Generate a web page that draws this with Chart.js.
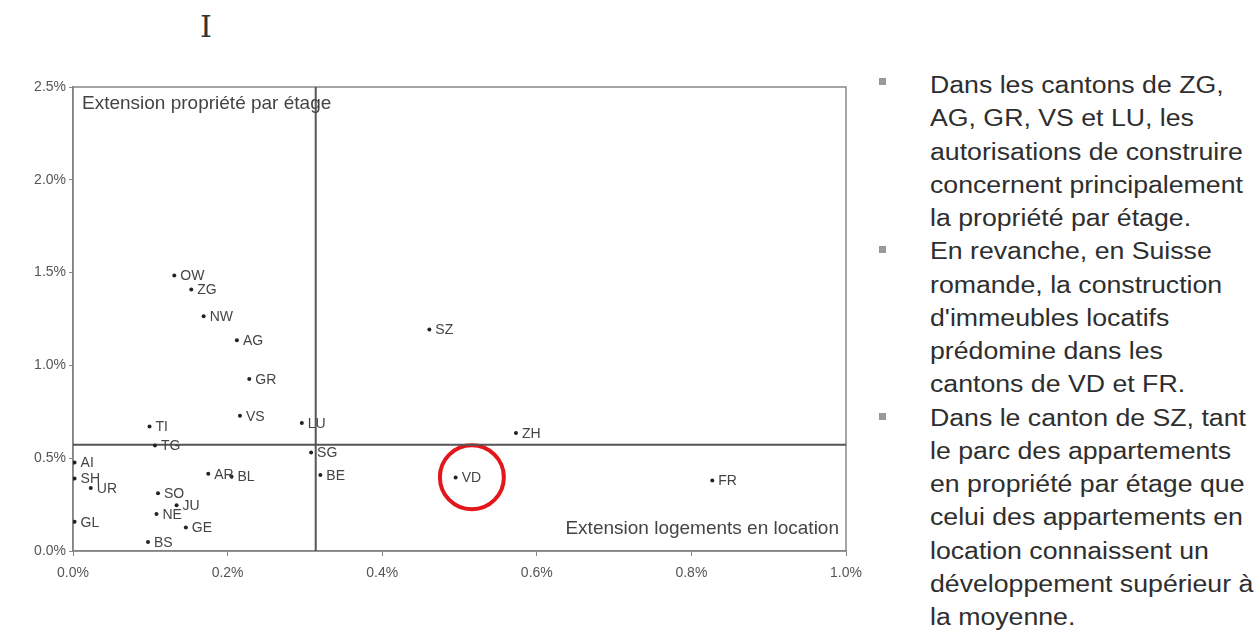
<!DOCTYPE html>
<html>
<head>
<meta charset="utf-8">
<script src="https://cdn.jsdelivr.net/npm/chart.js@4/dist/chart.umd.min.js"></script>
<style>
  body { margin: 0; width: 1255px; height: 630px; background: #fff; position: relative; overflow: hidden;
         font-family: "Liberation Sans", Arial, sans-serif; }
  #wrap { position: absolute; left: 0; top: 0; width: 882px; height: 630px; }
  #notes { position: absolute; left: 930px; top: 69px; color: #2e2e2e; font-size: 23px; line-height: 33.25px;
           transform: scaleX(1.16); transform-origin: 0 0; white-space: nowrap; }
  .bullet { position: absolute; left: 879px; width: 7px; height: 7px; background: #9a9a9a; }
  #cursor { position: absolute; left: 200px; top: 9px; font-family: "DejaVu Serif", serif; font-size: 30px; color: #333; }
</style>
</head>
<body>
<div id="cursor">I</div>
<div id="wrap"><canvas id="chart" width="882" height="630"></canvas></div>

<div class="bullet" style="top:78px"></div>
<div class="bullet" style="top:246px"></div>
<div class="bullet" style="top:413px"></div>
<div id="notes">
  <div>Dans les cantons de ZG,</div>
  <div>AG, GR, VS et LU, les</div>
  <div>autorisations de construire</div>
  <div>concernent principalement</div>
  <div>la propriété par étage.</div>
  <div>En revanche, en Suisse</div>
  <div>romande, la construction</div>
  <div>d'immeubles locatifs</div>
  <div>prédomine dans les</div>
  <div>cantons de VD et FR.</div>
  <div>Dans le canton de SZ, tant</div>
  <div>le parc des appartements</div>
  <div>en propriété par étage que</div>
  <div>celui des appartements en</div>
  <div>location connaissent un</div>
  <div>développement supérieur à</div>
  <div>la moyenne.</div>
</div>

<script>
// cantons, x = extension logements en location (%), y = extension propriété par étage (%)
const cantons = ["OW", "ZG", "NW", "AG", "GR", "VS", "LU", "TI", "TG", "AI", "SH", "UR", "GL",
                 "SO", "JU", "NE", "GE", "BS", "AR", "BL", "SG", "BE", "SZ", "ZH", "VD", "FR"];
const locationGrowth = [0.131, 0.153, 0.169, 0.212, 0.228, 0.216, 0.296, 0.099, 0.106, 0.002, 0.002, 0.023, 0.002,
                        0.110, 0.134, 0.108, 0.146, 0.097, 0.175, 0.205, 0.308, 0.320, 0.461, 0.573, 0.495, 0.827];
const ppeGrowth = [1.485, 1.409, 1.265, 1.136, 0.927, 0.729, 0.690, 0.671, 0.569, 0.477, 0.390, 0.340, 0.157,
                   0.311, 0.247, 0.200, 0.126, 0.049, 0.416, 0.401, 0.531, 0.410, 1.193, 0.636, 0.396, 0.380];

// averages that split the chart in quadrants
const avgLocation = 0.314;
const avgPpe = 0.572;

// circled canton
const highlight = [{ x: 0.516, y: 0.397 }];

const xTickLabels = ["0.0%", "0.2%", "0.4%", "0.6%", "0.8%", "1.0%"];
const yTickLabels = ["0.0%", "0.5%", "1.0%", "1.5%", "2.0%", "2.5%"];

const quadrantTop = "Extension propriété par étage";
const quadrantBottom = "Extension logements en location";

const points = cantons.map((c, i) => ({ x: locationGrowth[i], y: ppeGrowth[i] }));

const pointLabels = {
  id: "pointLabels",
  afterDatasetsDraw(chart) {
    const ctx = chart.ctx;
    const meta = chart.getDatasetMeta(0);
    ctx.save();
    ctx.font = "14px 'Liberation Sans', Arial, sans-serif";
    ctx.fillStyle = "#444";
    ctx.textBaseline = "middle";
    meta.data.forEach((el, i) => {
      ctx.fillText(cantons[i], el.x + 6, el.y + 1);
    });
    ctx.restore();
  }
};

const frame = {
  id: "frame",
  beforeDatasetsDraw(chart) {
    const a = chart.chartArea;
    const ctx = chart.ctx;
    ctx.save();
    ctx.strokeStyle = "#888";
    ctx.lineWidth = 1.5;
    ctx.strokeRect(a.left, a.top, a.right - a.left, a.bottom - a.top);
    ctx.restore();
  },
  afterDatasetsDraw(chart) {
    const a = chart.chartArea;
    const ctx = chart.ctx;
    ctx.save();
    ctx.font = "19px 'Liberation Sans', Arial, sans-serif";
    ctx.fillStyle = "#444";
    ctx.textBaseline = "middle";
    ctx.textAlign = "left";
    ctx.fillText(quadrantTop, a.left + 9, a.top + 17);
    ctx.textAlign = "right";
    ctx.fillText(quadrantBottom, a.right - 7, a.bottom - 22);
    ctx.restore();
  }
};

new Chart(document.getElementById("chart"), {
  type: "scatter",
  data: {
    datasets: [
      {
        data: points,
        pointRadius: 2,
        pointBackgroundColor: "#222",
        pointBorderWidth: 0
      },
      {
        data: [{ x: avgLocation, y: 0 }, { x: avgLocation, y: 2.5 }],
        showLine: true,
        pointRadius: 0,
        borderColor: "#555",
        borderWidth: 2
      },
      {
        data: [{ x: 0, y: avgPpe }, { x: 1.0, y: avgPpe }],
        showLine: true,
        pointRadius: 0,
        borderColor: "#555",
        borderWidth: 2
      },
      {
        data: highlight,
        pointRadius: 32,
        pointBorderWidth: 4,
        pointBorderColor: "#e3161b",
        pointBackgroundColor: "rgba(0,0,0,0)"
      }
    ]
  },
  options: {
    responsive: false,
    animation: false,
    layout: { padding: { top: 87, right: 13, bottom: 39, left: 0 } },
    plugins: { legend: { display: false }, tooltip: { enabled: false } },
    scales: {
      x: {
        min: 0,
        max: 1.0,
        ticks: {
          stepSize: 0.2,
          color: "#555",
          font: { size: 14, family: "'Liberation Sans', Arial, sans-serif" },
          padding: 9,
          maxRotation: 0,
          callback: (v, i) => xTickLabels[i]
        },
        grid: { drawOnChartArea: false, drawTicks: true, tickLength: 5, color: "#888" },
        border: { color: "#777", width: 1.5 },
        afterFit: s => { s.height = 40; }
      },
      y: {
        min: 0,
        max: 2.5,
        ticks: {
          stepSize: 0.5,
          color: "#555",
          font: { size: 14, family: "'Liberation Sans', Arial, sans-serif" },
          padding: 3,
          callback: (v, i) => yTickLabels[i]
        },
        grid: { drawOnChartArea: false, drawTicks: true, tickLength: 4, color: "#888" },
        border: { color: "#777", width: 1.5 },
        afterFit: s => { s.width = 73; }
      }
    }
  },
  plugins: [pointLabels, frame]
});
</script>
</body>
</html>
